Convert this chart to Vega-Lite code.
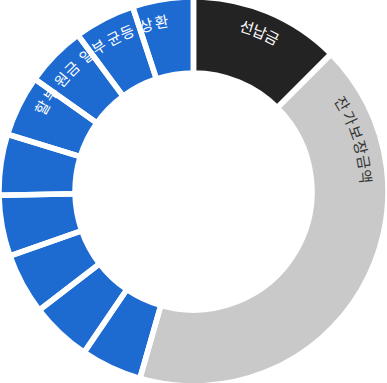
{
  "$schema": "https://vega.github.io/schema/vega-lite/v6.json",
  "width": 387,
  "height": 383,
  "autosize": {"type": "fit", "contains": "padding"},
  "padding": 0,
  "background": "white",
  "config": {"view": {"stroke": null}},
  "datasets": {
    "segments": [
      {"idx": 1, "name": "선납금", "value": 45},
      {"idx": 2, "name": "잔가보장금액", "value": 151},
      {"idx": 3, "name": "할부 원금 일부 균등상환", "value": 18.22},
      {"idx": 4, "name": "할부 원금 일부 균등상환", "value": 18.22},
      {"idx": 5, "name": "할부 원금 일부 균등상환", "value": 18.22},
      {"idx": 6, "name": "할부 원금 일부 균등상환", "value": 18.22},
      {"idx": 7, "name": "할부 원금 일부 균등상환", "value": 18.22},
      {"idx": 8, "name": "할부 원금 일부 균등상환", "value": 18.22},
      {"idx": 9, "name": "할부 원금 일부 균등상환", "value": 18.22},
      {"idx": 10, "name": "할부 원금 일부 균등상환", "value": 18.22},
      {"idx": 11, "name": "할부 원금 일부 균등상환", "value": 18.24}
    ],
    "letters": [
      {"name": "선납금", "ch": "선", "pos": 18.0},
      {"name": "선납금", "ch": "납", "pos": 22.5},
      {"name": "선납금", "ch": "금", "pos": 27.0},
      {"name": "잔가보장금액", "ch": "잔", "pos": 59.4},
      {"name": "잔가보장금액", "ch": "가", "pos": 64.8},
      {"name": "잔가보장금액", "ch": "보", "pos": 70.0},
      {"name": "잔가보장금액", "ch": "장", "pos": 75.2},
      {"name": "잔가보장금액", "ch": "금", "pos": 80.2},
      {"name": "잔가보장금액", "ch": "액", "pos": 85.0},
      {"name": "할부 원금 일부 균등상환", "ch": "할", "pos": 299.0},
      {"name": "할부 원금 일부 균등상환", "ch": "부", "pos": 304.3},
      {"name": "할부 원금 일부 균등상환", "ch": "원", "pos": 310.3},
      {"name": "할부 원금 일부 균등상환", "ch": "금", "pos": 315.3},
      {"name": "할부 원금 일부 균등상환", "ch": "일", "pos": 321.8},
      {"name": "할부 원금 일부 균등상환", "ch": "부", "pos": 326.8},
      {"name": "할부 원금 일부 균등상환", "ch": "균", "pos": 332.6},
      {"name": "할부 원금 일부 균등상환", "ch": "등", "pos": 337.4},
      {"name": "할부 원금 일부 균등상환", "ch": "상", "pos": 344.1},
      {"name": "할부 원금 일부 균등상환", "ch": "환", "pos": 349.3}
    ]
  },
  "layer": [
    {
      "data": {"name": "segments"},
      "mark": {"type": "arc", "outerRadius": 194.5, "innerRadius": 118.5},
      "encoding": {
        "theta": {"field": "value", "type": "quantitative", "stack": true},
        "order": {"field": "idx", "type": "quantitative"},
        "color": {
          "field": "name",
          "type": "nominal",
          "scale": {
            "domain": ["선납금", "잔가보장금액", "할부 원금 일부 균등상환"],
            "range": ["#232323", "#c9c9c9", "#1d6bd1"]
          },
          "legend": null
        }
      }
    },
    {
      "data": {"name": "letters"},
      "mark": {
        "type": "text",
        "radius": 172,
        "align": "center",
        "baseline": "middle",
        "font": "Noto Sans CJK KR",
        "fontSize": 15
      },
      "encoding": {
        "theta": {"field": "pos", "type": "quantitative", "stack": null},
        "angle": {
          "field": "pos",
          "type": "quantitative",
          "scale": {"domain": [0, 360], "range": [0, 360]}
        },
        "text": {"field": "ch", "type": "nominal"},
        "color": {
          "field": "name",
          "type": "nominal",
          "scale": {
            "domain": ["선납금", "잔가보장금액", "할부 원금 일부 균등상환"],
            "range": ["#ffffff", "#333333", "#ffffff"]
          },
          "legend": null
        }
      }
    },
    {
      "data": {"name": "segments"},
      "mark": {
        "type": "arc",
        "outerRadius": 194.5,
        "innerRadius": 118.5,
        "fillOpacity": 0,
        "stroke": "white",
        "strokeWidth": 5.5
      },
      "encoding": {
        "theta": {"field": "value", "type": "quantitative", "stack": true},
        "order": {"field": "idx", "type": "quantitative"}
      }
    }
  ],
  "resolve": {"scale": {"color": "independent"}}
}
